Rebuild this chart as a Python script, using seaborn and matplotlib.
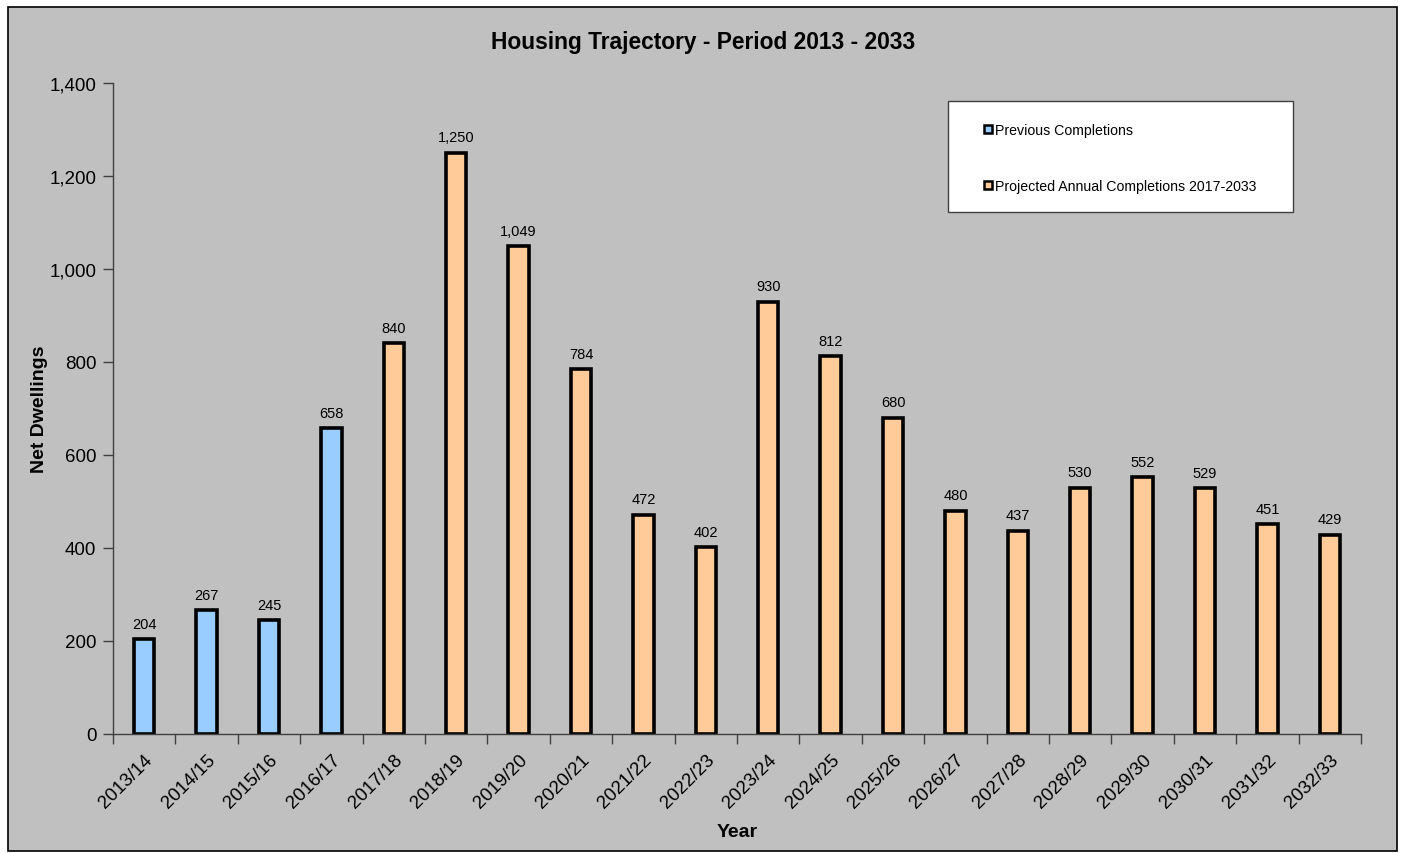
import numpy as np
import pandas as pd
import seaborn as sns
import matplotlib
import matplotlib.pyplot as plt
from matplotlib.lines import Line2D
from matplotlib.patches import Rectangle
from matplotlib.ticker import FuncFormatter, MultipleLocator, FixedLocator

matplotlib.use('Agg')
sns.set_style("white")
plt.rcParams['font.family'] = ['Liberation Sans', 'DejaVu Sans']
plt.rcParams['text.color'] = 'black'
plt.rcParams['axes.labelcolor'] = 'black'
plt.rcParams['xtick.color'] = 'black'
plt.rcParams['ytick.color'] = 'black'

# -------------------------------Datos
years = ['2013/14', '2014/15', '2015/16', '2016/17', '2017/18', '2018/19', '2019/20',
         '2020/21', '2021/22', '2022/23', '2023/24', '2024/25', '2025/26', '2026/27',
         '2027/28', '2028/29', '2029/30', '2030/31', '2031/32', '2032/33']
dwellings = [204, 267, 245, 658, 840, 1250, 1049, 784, 472, 402, 930, 812, 680, 480,
             437, 530, 552, 529, 451, 429]
series = ['Previous Completions'] * 4 + ['Projected Annual Completions 2017-2033'] * 16
series_names = ['Previous Completions', 'Projected Annual Completions 2017-2033']
colores = ['#99CCFF', '#FFCC99']

df = pd.DataFrame({'Year': years, 'Net Dwellings': dwellings, 'Serie': series})

fig = plt.figure(figsize=(14.01, 8.54), dpi=100)
fig.patch.set_facecolor('white')
# fondo gris con borde negro
fig.patches.append(Rectangle((8 / 1401, 2 / 854), 1389 / 1401, 844 / 854, transform=fig.transFigure,
                             facecolor='#C0C0C0', edgecolor='black', linewidth=1.2, zorder=-10))

ax = fig.add_axes([113 / 1401, 1 - 735 / 854, 1248 / 1401, 651 / 854])
ax.set_facecolor('none')

sns.barplot(data=df, x='Year', y='Net Dwellings', hue='Serie', hue_order=series_names,
            palette=colores, dodge=False, width=0.33, edgecolor='black', linewidth=2.6,
            legend=False, ax=ax, saturation=1)

for cont in ax.containers:
    ax.bar_label(cont, labels=[f'{v:,.0f}' for v in cont.datavalues], padding=6, fontsize=10.5)

ax.set_xlim(-0.5, len(years) - 0.5)
ax.set_ylim(0, 1400)
ax.yaxis.set_major_locator(MultipleLocator(200))
ax.yaxis.set_major_formatter(FuncFormatter(lambda v, p: f'{v:,.0f}'))

# ticks en x en los limites de categoria
ax.xaxis.set_minor_locator(FixedLocator(np.arange(-0.5, len(years), 1.0)))
ax.tick_params(axis='x', which='major', length=0, labelsize=13.5, pad=12)
ax.tick_params(axis='x', which='minor', length=7, width=1, color='#404040', direction='out', bottom=True)
ax.tick_params(axis='y', which='major', length=7, width=1, color='#404040', direction='out',
               labelsize=13.5, pad=5, left=True)
plt.setp(ax.get_xticklabels(), rotation=45, ha='right', rotation_mode='anchor')

for s in ['top', 'right']:
    ax.spines[s].set_visible(False)
for s in ['left', 'bottom']:
    ax.spines[s].set_color('#404040')
    ax.spines[s].set_linewidth(1)

ax.set_xlabel('Year', fontsize=14, fontweight='bold', labelpad=9)
ax.set_ylabel('Net Dwellings', fontsize=14, fontweight='bold', labelpad=1)
fig.text(703 / 1401, 1 - 42 / 854, 'Housing Trajectory - Period 2013 - 2033', ha='center', va='center',
         fontsize=16.4, fontweight='bold')

# caja de la leyenda
ax.add_patch(Rectangle((0.669, 0.8018), 0.2764, 0.1706, transform=ax.transAxes, facecolor='white',
                       edgecolor='#404040', linewidth=1, zorder=5))
handles = [Line2D([0], [0], marker='s', linestyle='none', markersize=6, markerfacecolor=c,
                  markeredgecolor='black', markeredgewidth=1.8) for c in colores]
leg = ax.legend(handles, series_names, loc='upper left', bbox_to_anchor=(0.680, 0.9735),
                frameon=False, fontsize=10.2, borderpad=1.6, labelspacing=2.95,
                handlelength=0.5, handletextpad=0.25, borderaxespad=0)
leg.set_zorder(6)

fig.savefig('out.png', dpi=100)
